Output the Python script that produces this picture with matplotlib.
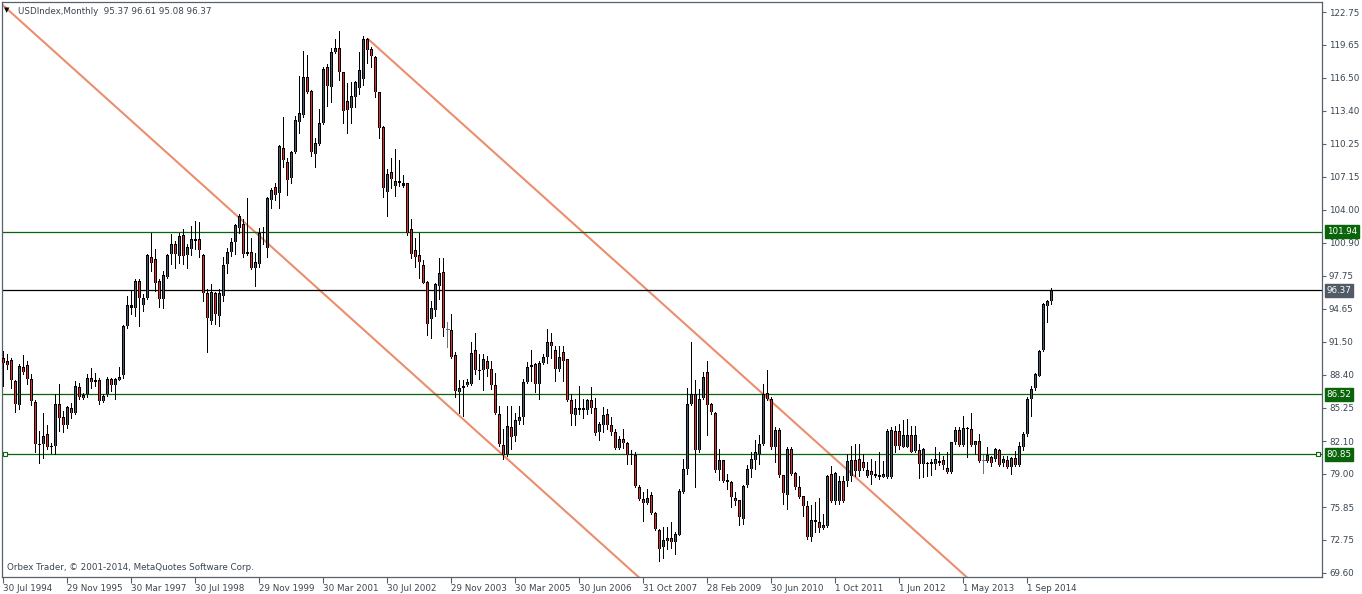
import numpy as np
import matplotlib.pyplot as plt
from matplotlib.transforms import blended_transform_factory

# monthly bars, oldest first
opens = [89.94, 89.68, 89.75, 87.79, 85.52, 89.12, 89.27, 87.95, 85.83, 81.73,
         81.79, 82.74, 81.54, 81.63, 85.58, 84.38, 83.62, 85.20, 84.79, 87.25,
         86.46, 86.53, 88.04, 87.73, 87.85, 85.90, 86.53, 87.95, 87.41, 87.92,
         88.36, 93.00, 94.96, 94.74, 97.26, 94.99, 95.69, 99.57, 99.32, 97.26,
         95.59, 97.67, 99.85, 100.80, 99.63, 101.62, 99.73, 100.26, 101.05, 101.21,
         99.70, 96.10, 93.47, 96.10, 93.95, 95.84, 98.91, 100.04, 100.99, 102.32,
         102.70, 99.85, 99.99, 98.47, 98.88, 101.79, 100.37, 104.95, 106.15, 105.58,
         109.84, 108.58, 107.00, 109.46, 112.31, 113.00, 116.57, 115.27, 109.27, 110.22,
         112.21, 117.58, 115.62, 119.00, 119.32, 117.04, 114.33, 113.63, 114.67, 115.53,
         116.38, 120.17, 119.22, 118.46, 115.15, 111.83, 105.67, 107.57, 106.30, 106.59,
         106.53, 106.53, 102.20, 100.21, 99.74, 98.82, 97.21, 93.64, 94.53, 96.80,
         98.16, 92.69, 92.66, 90.23, 86.79, 87.14, 87.42, 87.55, 90.70, 88.80,
         88.84, 89.73, 88.90, 87.42, 84.70, 81.74, 80.85, 83.44, 82.59, 84.01,
         84.42, 87.74, 89.35, 89.41, 87.55, 89.54, 90.10, 91.49, 90.74, 88.90,
         90.58, 89.85, 85.97, 84.55, 85.05, 85.27, 85.05, 86.00, 85.27, 82.96,
         83.59, 84.70, 83.59, 82.96, 81.44, 82.27, 81.92, 80.91, 80.81, 77.75,
         76.64, 76.27, 76.96, 75.29, 73.68, 72.07, 72.60, 72.92, 72.54, 73.23,
         77.28, 79.49, 85.64, 86.59, 81.22, 86.21, 88.64, 85.64, 84.79, 79.33,
         80.28, 78.38, 78.22, 76.71, 76.49, 74.75, 77.91, 79.49, 80.28, 80.91,
         81.85, 86.66, 86.12, 81.54, 83.18, 78.85, 76.96, 81.38, 79.08, 77.71,
         76.86, 75.97, 72.97, 74.65, 74.40, 73.83, 74.08, 78.97, 76.45, 76.45,
         78.34, 78.34, 78.82, 80.33, 80.40, 80.14, 78.82, 79.29, 78.75, 78.88,
         78.72, 78.72, 78.72, 83.08, 83.08, 81.50, 81.50, 82.67, 81.19, 81.28,
         79.92, 80.02, 79.92, 79.92, 80.24, 80.30, 79.55, 79.20, 81.97, 83.14,
         81.72, 83.33, 83.24, 81.72, 82.07, 80.30, 80.24, 80.62, 80.40, 81.28,
         79.99, 80.30, 79.61, 80.49, 79.86, 81.50, 82.77, 86.08, 87.09, 88.29,
         90.75, 94.86, 95.37]
highs = [90.60, 90.32, 90.00, 87.85, 89.37, 90.22, 89.69, 88.49, 85.95, 83.05,
         84.79, 83.62, 81.95, 86.59, 87.47, 84.95, 85.42, 85.74, 87.79, 87.63,
         86.69, 88.42, 89.05, 88.58, 88.11, 86.53, 88.17, 88.11, 88.11, 89.12,
         93.10, 95.84, 96.32, 97.49, 97.42, 96.00, 99.79, 101.78, 100.33, 97.42,
         98.21, 99.79, 101.69, 101.05, 101.84, 102.16, 100.74, 102.47, 102.95, 102.89,
         99.79, 96.47, 96.95, 96.22, 96.47, 99.54, 100.42, 101.37, 102.70, 103.60,
         103.10, 105.10, 101.32, 99.89, 102.26, 102.42, 105.26, 106.05, 106.53, 110.16,
         112.84, 108.89, 109.59, 112.90, 116.69, 119.06, 118.68, 115.37, 110.79, 113.54,
         117.58, 117.80, 119.32, 120.17, 120.96, 117.10, 116.00, 116.16, 116.22, 119.00,
         120.48, 120.26, 119.41, 118.59, 115.21, 111.96, 107.88, 108.89, 109.75, 108.74,
         107.31, 106.59, 103.11, 101.32, 101.79, 99.30, 97.27, 95.38, 97.12, 99.48,
         99.42, 93.39, 94.11, 90.58, 87.89, 87.89, 87.96, 91.53, 92.35, 90.33,
         90.33, 90.17, 89.69, 88.59, 85.43, 83.22, 85.43, 85.43, 84.80, 85.43,
         87.96, 89.63, 90.74, 89.54, 89.69, 90.33, 92.69, 92.31, 91.12, 91.12,
         91.12, 89.92, 86.53, 86.12, 87.33, 86.06, 86.12, 87.26, 86.22, 83.91,
         85.33, 85.17, 84.38, 83.28, 82.58, 83.28, 82.01, 81.22, 81.07, 77.97,
         77.28, 77.59, 77.28, 75.38, 73.80, 73.96, 73.96, 74.43, 73.49, 77.59,
         80.43, 87.13, 91.49, 87.85, 87.07, 88.64, 89.69, 85.74, 84.85, 81.38,
         80.35, 79.01, 78.30, 77.28, 76.55, 77.91, 79.80, 81.07, 82.17, 82.64,
         87.54, 88.80, 86.28, 83.43, 83.34, 78.92, 81.54, 81.54, 79.17, 78.82,
         76.92, 76.45, 76.04, 76.35, 76.67, 75.19, 78.88, 79.77, 79.15, 78.82,
         78.82, 80.87, 81.66, 81.82, 81.82, 80.87, 80.14, 80.40, 80.24, 81.09,
         80.24, 83.24, 83.40, 83.55, 83.71, 84.12, 84.18, 83.55, 83.55, 81.82,
         81.40, 80.14, 80.40, 81.50, 81.03, 80.71, 81.03, 82.04, 83.40, 83.40,
         84.50, 83.40, 84.72, 82.13, 82.77, 80.78, 81.50, 80.71, 81.41, 81.34,
         80.71, 80.71, 80.55, 81.19, 81.97, 82.92, 86.24, 87.28, 88.55, 90.75,
         95.18, 95.49, 96.61]
lows = [87.30, 88.90, 87.16, 84.89, 85.11, 88.42, 87.47, 85.52, 81.10, 80.05,
        80.53, 81.32, 81.00, 80.91, 83.05, 82.99, 83.37, 84.32, 84.63, 86.05,
        86.05, 86.27, 87.16, 87.32, 85.58, 85.83, 86.37, 86.84, 86.05, 87.85,
        88.11, 92.84, 94.11, 93.95, 93.00, 94.42, 95.53, 98.21, 96.32, 94.80,
        94.67, 97.58, 98.91, 98.53, 99.00, 98.91, 98.53, 99.73, 100.26, 99.54,
        95.37, 90.57, 93.16, 93.16, 93.00, 95.37, 98.05, 99.63, 99.85, 101.80,
        99.50, 99.70, 98.38, 96.83, 98.63, 100.80, 99.58, 104.16, 104.95, 104.16,
        108.10, 105.42, 106.59, 109.37, 111.26, 112.84, 115.05, 109.15, 108.10, 110.16,
        112.15, 113.85, 114.26, 118.84, 116.32, 112.21, 111.26, 112.21, 113.73, 114.99,
        115.84, 117.96, 117.58, 114.67, 110.79, 105.26, 103.43, 106.05, 105.36, 106.27,
        106.21, 101.63, 99.48, 98.63, 97.53, 97.05, 92.16, 91.90, 93.96, 95.54,
        92.06, 91.05, 90.01, 86.31, 84.80, 84.48, 87.33, 87.42, 88.43, 87.96,
        86.95, 88.27, 87.01, 84.64, 81.64, 80.38, 80.69, 81.33, 82.12, 83.69,
        83.69, 87.64, 87.80, 86.76, 86.06, 89.38, 89.54, 90.01, 87.80, 88.75,
        87.80, 85.90, 83.60, 83.60, 84.64, 84.33, 84.64, 84.80, 82.71, 82.17,
        82.96, 83.28, 82.64, 81.38, 81.32, 81.44, 79.96, 79.96, 77.75, 76.49,
        74.50, 76.17, 75.22, 73.71, 70.74, 71.02, 71.91, 71.97, 71.43, 73.17,
        77.21, 79.01, 85.49, 77.75, 81.07, 86.12, 82.64, 84.70, 79.17, 78.38,
        78.22, 77.59, 75.85, 76.01, 74.12, 74.28, 77.75, 78.70, 79.49, 79.96,
        81.76, 85.96, 81.38, 80.12, 78.70, 76.17, 75.70, 78.85, 77.59, 76.67,
        75.03, 72.82, 72.66, 73.45, 73.45, 73.77, 74.00, 76.35, 76.13, 76.13,
        76.35, 77.87, 78.34, 78.82, 78.82, 79.39, 78.66, 78.03, 78.66, 78.53,
        78.66, 78.56, 78.56, 81.09, 81.34, 81.50, 81.50, 81.03, 81.03, 78.56,
        78.66, 78.82, 78.88, 79.45, 79.83, 79.45, 79.07, 79.07, 81.82, 81.66,
        81.65, 80.55, 81.66, 80.87, 80.14, 79.07, 80.14, 79.77, 80.24, 79.70,
        79.77, 79.51, 78.97, 79.77, 79.77, 81.28, 82.61, 84.50, 86.97, 88.23,
        90.66, 93.41, 95.08]
closes = [89.53, 89.31, 87.88, 85.64, 89.21, 88.67, 88.01, 85.90, 81.85, 81.85,
          82.58, 81.54, 81.66, 85.58, 84.32, 83.62, 85.33, 84.79, 87.32, 86.27,
          86.21, 88.04, 87.73, 87.85, 85.90, 86.37, 87.95, 87.41, 87.95, 88.17,
          93.00, 94.96, 94.74, 97.26, 95.69, 95.69, 99.70, 99.00, 97.11, 95.59,
          97.80, 99.70, 100.80, 99.85, 101.53, 99.63, 100.49, 101.21, 101.21, 100.20,
          96.16, 93.73, 96.22, 94.17, 96.16, 98.75, 100.04, 100.99, 102.54, 103.42,
          99.79, 100.04, 98.47, 99.04, 101.85, 101.95, 105.10, 105.89, 105.42, 110.06,
          108.74, 106.84, 109.46, 112.53, 113.16, 116.57, 115.15, 109.46, 110.38, 112.27,
          117.36, 115.75, 119.00, 119.32, 117.10, 113.38, 113.47, 114.80, 116.16, 117.26,
          120.17, 119.16, 118.59, 115.15, 111.74, 106.05, 107.41, 106.90, 106.78, 106.71,
          106.30, 101.79, 99.80, 99.58, 99.04, 97.12, 93.23, 94.75, 96.96, 98.06,
          92.85, 92.69, 90.10, 86.85, 87.17, 87.33, 87.67, 90.48, 88.84, 88.76,
          89.92, 88.90, 87.42, 84.80, 81.80, 80.79, 83.54, 82.53, 84.07, 84.42,
          87.74, 89.16, 89.16, 87.55, 89.54, 90.10, 91.53, 91.12, 88.97, 90.10,
          89.69, 85.99, 84.70, 85.27, 85.27, 85.05, 86.00, 85.27, 82.84, 83.75,
          84.60, 83.66, 82.96, 81.44, 82.33, 81.95, 80.81, 80.75, 77.84, 76.58,
          76.27, 76.71, 75.32, 73.80, 71.84, 72.70, 72.92, 72.54, 73.33, 77.37,
          79.49, 85.64, 86.59, 81.22, 86.05, 88.17, 85.55, 84.85, 79.33, 80.28,
          78.29, 78.22, 76.80, 76.39, 74.91, 77.84, 79.49, 80.43, 81.07, 81.85,
          86.59, 86.12, 81.54, 83.18, 78.85, 77.21, 81.38, 79.01, 77.75, 76.76,
          75.97, 72.97, 74.65, 74.40, 73.83, 74.15, 78.82, 76.45, 79.07, 78.34,
          76.45, 80.24, 80.30, 79.29, 79.29, 79.51, 79.35, 78.88, 78.97, 78.72,
          78.97, 83.08, 83.18, 81.66, 81.66, 82.67, 82.67, 81.09, 82.67, 79.92,
          81.34, 79.96, 80.08, 80.40, 79.99, 79.83, 79.20, 81.97, 83.14, 81.76,
          83.30, 83.24, 81.72, 82.07, 80.24, 80.30, 80.78, 80.02, 81.34, 79.83,
          80.40, 79.61, 80.49, 79.83, 81.66, 82.77, 86.08, 87.03, 88.45, 90.66,
          95.08, 95.40, 96.37]

date_labels = ['30 Jul 1994', '29 Nov 1995', '30 Mar 1997', '30 Jul 1998',
               '29 Nov 1999', '30 Mar 2001', '30 Jul 2002', '29 Nov 2003',
               '30 Mar 2005', '30 Jun 2006', '31 Oct 2007', '28 Feb 2009',
               '30 Jun 2010', '1 Oct 2011', '1 Jun 2012', '1 May 2013', '1 Sep 2014']
date_bars = [0, 16, 32, 48, 64, 80, 96, 112, 128, 144, 160, 176, 192, 208, 224, 240, 256]
price_ticks = [122.75, 119.65, 116.50, 113.40, 110.25, 107.15, 104.00, 100.90, 97.75,
               94.65, 91.50, 88.40, 85.25, 82.10, 79.00, 75.85, 72.75, 69.60]

green_levels = [101.94, 86.52, 80.85]
bid_level = 96.37
# channel lines, (bar, price) anchors
upper_line = [(91, 120.26), (241, 69.16)]
lower_line = [(0, 123.36), (158, 69.50)]

BULL = '#4a5866'
BEAR = '#e8282e'
GREEN = '#0a650a'
FRAME = '#56616c'
TXT = '#3a4550'
TREND = '#ec8e6e'
FS = 6.3

W, H = 1362, 594
fig = plt.figure(figsize=(W / 100, H / 100), dpi=100)
ax = fig.add_axes([2 / W, 17 / H, 1320 / W, 575 / H])

YLO, YHI = 69.22, 123.70
px = (YHI - YLO) / 575  # one pixel in price units

o = np.array(opens); h = np.array(highs); l = np.array(lows); c = np.array(closes)
x = np.arange(len(o))
flat = c == o
top = np.maximum(o, c)
bot = np.minimum(o, c)

# trend channel
for (x1, y1), (x2, y2) in [upper_line, lower_line]:
    k = (y2 - y1) / (x2 - x1)
    xs = np.array([x1 if x1 > 0 else -2, 330])
    ax.plot(xs, y1 + k * (xs - x1), color=TREND, lw=1.5, zorder=1, solid_capstyle='butt')

for lv in green_levels:
    ax.axhline(lv, color=GREEN, lw=0.9, zorder=2)
ax.axhline(bid_level, color='black', lw=0.9, zorder=2)

# candles: wick, black body frame, 1px fill inside
ax.vlines(x[~flat], l[~flat], h[~flat], color='black', lw=0.72, zorder=3,
          antialiased=False)
ax.bar(x[~flat], np.maximum(top - bot, px)[~flat], bottom=bot[~flat], width=0.75,
       color='black', lw=0, zorder=4, antialiased=False)
inner = (~flat) & (top - bot > 2.5 * px)
fills = np.where(c > o, BULL, BEAR)
ax.vlines(x[inner], bot[inner] + px, top[inner] - px, colors=fills[inner],
          lw=0.72, zorder=5, antialiased=False)
ax.vlines(x[flat], l[flat], h[flat], color='#6a7580', lw=0.72, zorder=3,
          antialiased=False)
ax.hlines(c[flat], x[flat] - 0.4, x[flat] + 0.4, color='#6a7580', lw=0.72, zorder=3,
          antialiased=False)

ax.set_xlim(-0.33, 329.7)
ax.set_ylim(YLO, YHI)

for sp in ax.spines.values():
    sp.set_color(FRAME)
    sp.set_linewidth(0.9)

ax.yaxis.tick_right()
ax.set_yticks(price_ticks)
ax.set_yticklabels([f'{p:.2f}' for p in price_ticks])
ax.tick_params(axis='y', length=3, width=0.8, color=FRAME, pad=2,
               labelsize=FS, labelcolor=TXT)
ax.set_xticks(date_bars)
ax.set_xticklabels(date_labels)
ax.tick_params(axis='x', length=4, width=0.8, color=FRAME, pad=1,
               labelsize=FS, labelcolor=TXT)
for lab in ax.get_xticklabels():
    lab.set_ha('left')

# price tags on the right scale
tr = blended_transform_factory(ax.transAxes, ax.transData)
for lv in green_levels:
    ax.text(1.0035, lv, f'{lv:.2f}', transform=tr, va='center', ha='left',
            fontsize=FS, color='white', zorder=6, clip_on=False,
            bbox=dict(boxstyle='square,pad=0.2', fc=GREEN, ec=GREEN))
ax.text(1.0035, bid_level, f'{bid_level:.2f}', transform=tr, va='center', ha='left',
        fontsize=FS, color='white', zorder=6, clip_on=False,
        bbox=dict(boxstyle='square,pad=0.2', fc='#505b66', ec='#505b66'))

# selection handles on the lowest level
ax.plot([0.002, 0.997], [80.85, 80.85], transform=tr, ls='none', marker='s', ms=3.5,
        mfc='white', mec=GREEN, mew=0.8, zorder=6, clip_on=False)

fig.text(4 / W, 1 - 10 / H, '\u25bc', fontsize=5, color='black', va='center', ha='left')
fig.text(18 / W, 1 - 11 / H, 'USDIndex,Monthly  95.37 96.61 95.08 96.37',
         fontsize=FS, color=TXT, va='center', ha='left')
fig.text(7 / W, 1 - 567 / H, 'Orbex Trader, \u00a9 2001-2014, MetaQuotes Software Corp.',
         fontsize=FS, color=TXT, va='center', ha='left')

fig.savefig('out.png', dpi=100)
